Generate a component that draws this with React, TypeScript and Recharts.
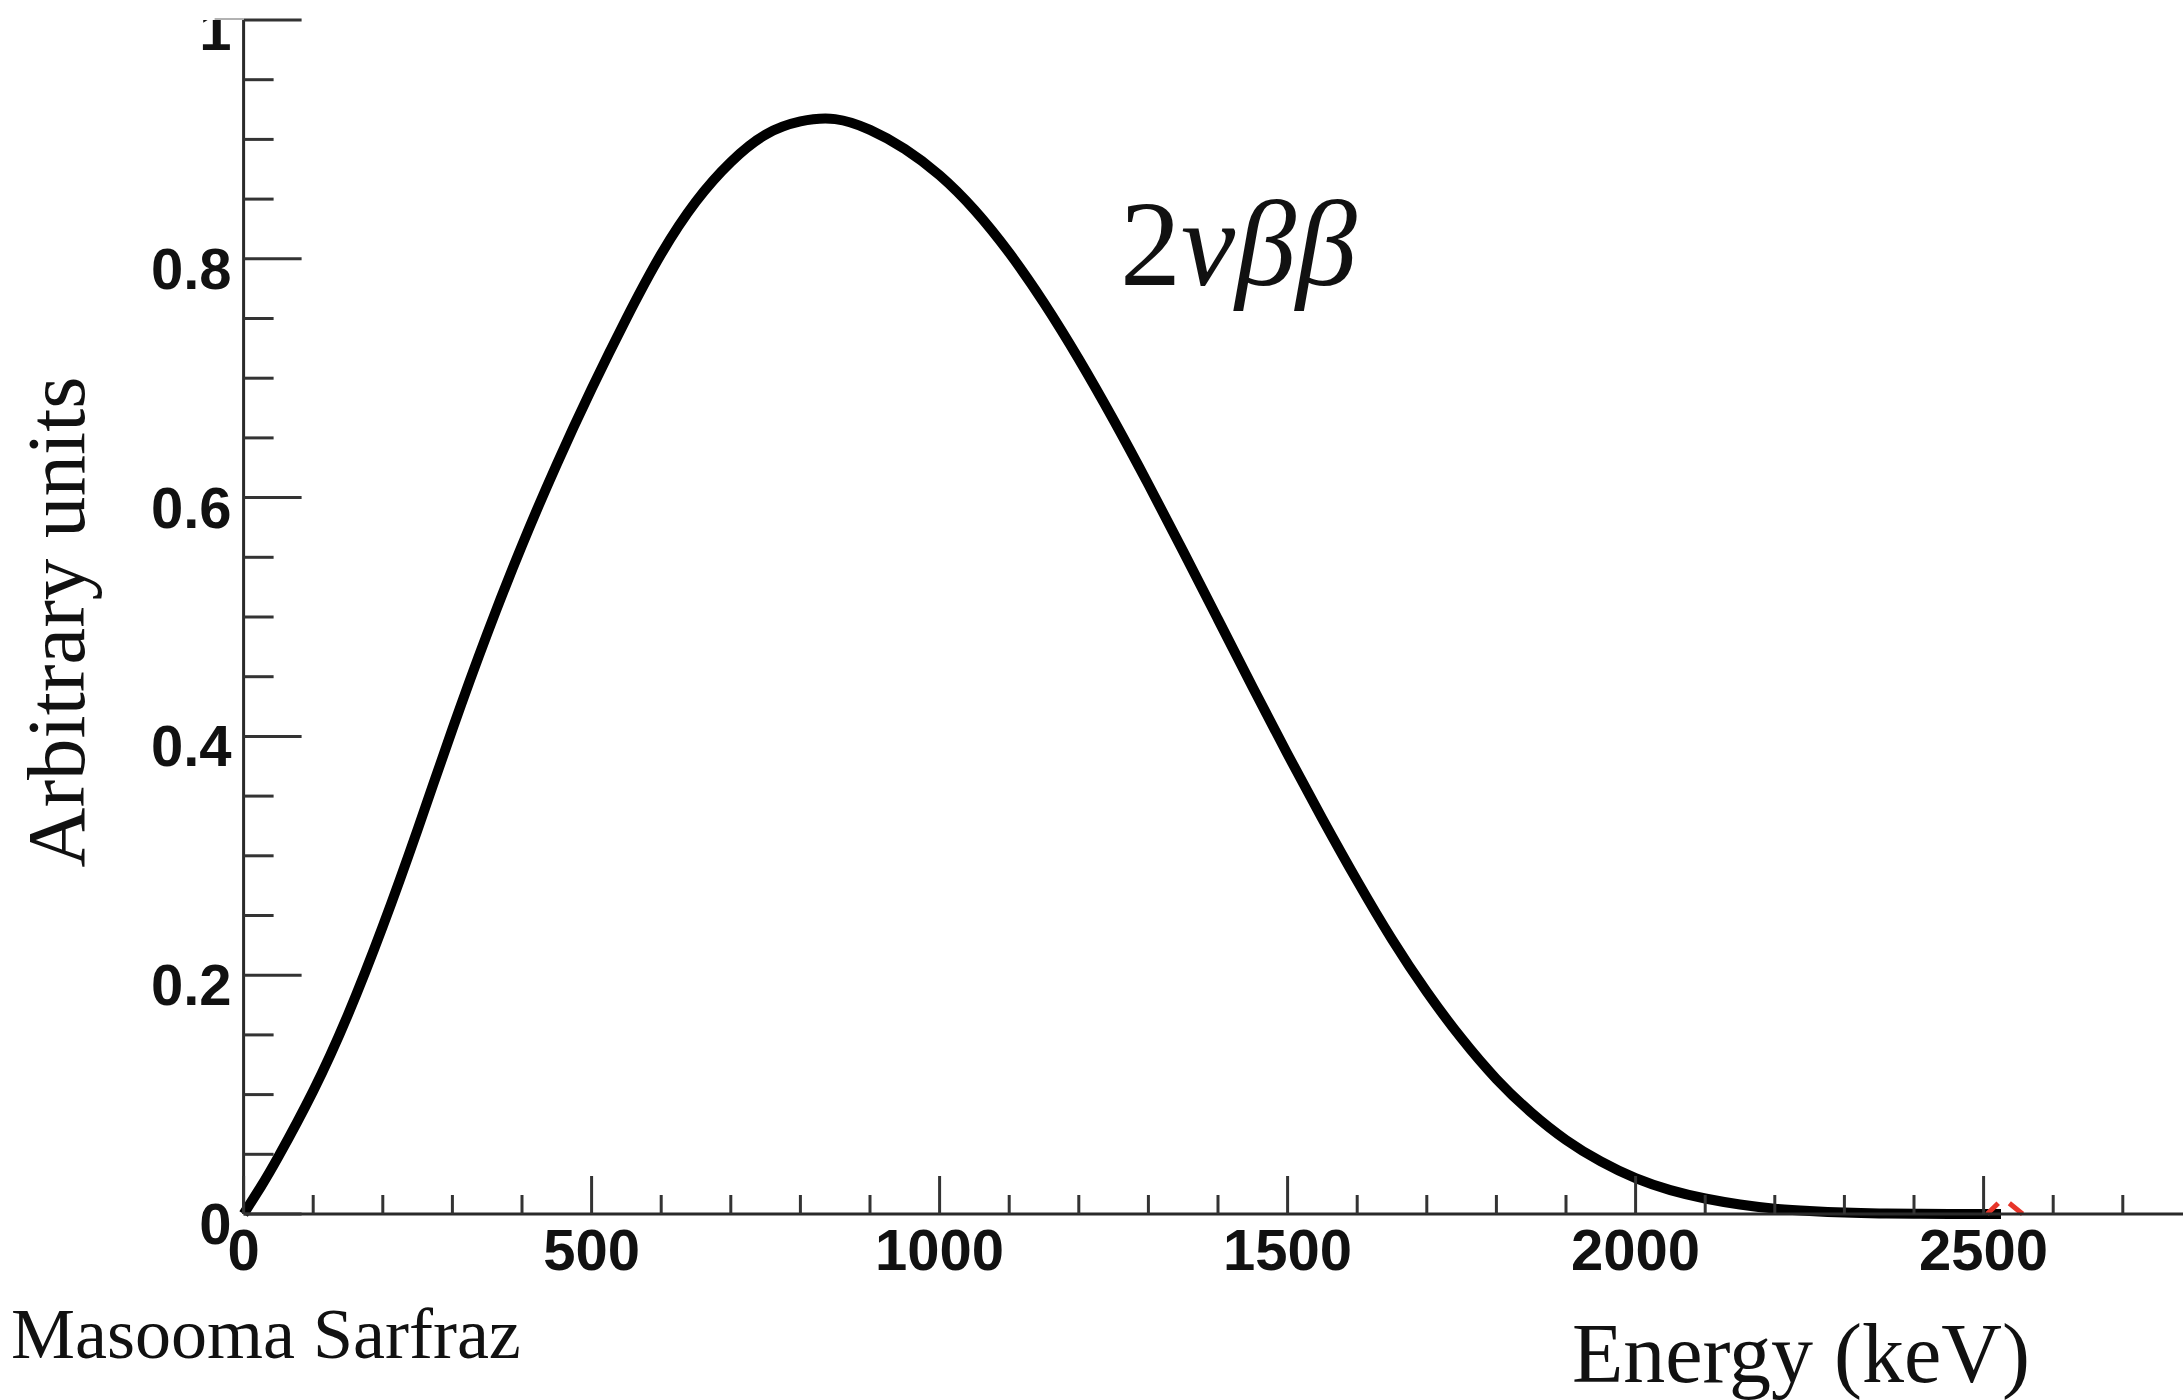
import { LineChart, Line, XAxis, YAxis } from 'recharts';

// values (every 50 keV)
const energy = [
  0, 25, 50, 100, 150, 200, 250, 300, 350, 400, 450, 500, 550, 600, 650, 700, 750, 800, 850,
  900, 950, 1000, 1050, 1100, 1150, 1200, 1250, 1300, 1350, 1400, 1450, 1500, 1550, 1600, 1650,
  1700, 1750, 1800, 1850, 1900, 1950, 2000, 2050, 2100, 2150, 2200, 2250, 2300, 2350, 2400,
  2450, 2525,
];
const units = [
  0, 0.023, 0.048, 0.103, 0.167, 0.241, 0.322, 0.406, 0.486, 0.56, 0.628, 0.691, 0.75,
  0.804, 0.848, 0.881, 0.904, 0.915, 0.917, 0.908, 0.892, 0.87, 0.841, 0.805, 0.763, 0.716,
  0.665, 0.611, 0.555, 0.498, 0.441, 0.385, 0.331, 0.279, 0.23, 0.186, 0.147, 0.113, 0.085,
  0.062, 0.044, 0.03, 0.02, 0.013, 0.008, 0.0045, 0.0025, 0.0012, 0.0005, 0.0002, 0.0001, 0,
];

// small red marks near the endpoint
const markEnergy = [2505, 2521, 2529, 2537, 2556];
const markUnits = [0, 0.009, null, 0.009, 0];

const xTicks = [
  0, 100, 200, 300, 400, 500, 600, 700, 800, 900, 1000, 1100, 1200, 1300, 1400, 1500, 1600,
  1700, 1800, 1900, 2000, 2100, 2200, 2300, 2400, 2500, 2600, 2700, 2800,
];
const xMajor = [0, 500, 1000, 1500, 2000, 2500];
const yTicks = [
  0, 0.05, 0.1, 0.15, 0.2, 0.25, 0.3, 0.35, 0.4, 0.45, 0.5, 0.55, 0.6, 0.65, 0.7, 0.75, 0.8,
  0.85, 0.9, 0.95, 1,
];
const yMajor = [0, 0.2, 0.4, 0.6, 0.8, 1];
const yLabels = ['0', '0.2', '0.4', '0.6', '0.8', '1'];

const spectrum = energy.map((e, i) => ({ energy: e, units: units[i] }));
const marks = markEnergy.map((e, i) => ({ energy: e, mark: markUnits[i] }));

const tickFont = { fontFamily: '"Liberation Sans", Arial, Helvetica, sans-serif', fontWeight: 700, fontSize: 58, fill: '#111' };
const serif = '"Liberation Serif", "Times New Roman", Times, serif';

const XTick = (props: any) => {
  const { x, y, payload } = props;
  const v = payload.value;
  const major = xMajor.includes(v);
  return (
    <g>
      <line x1={x} x2={x} y1={y} y2={y - (major ? 38 : 19)} stroke="#333" strokeWidth={3} />
      {major && (
        <text x={x} y={y + 56} textAnchor="middle" {...tickFont}>
          {v}
        </text>
      )}
    </g>
  );
};

const YTick = (props: any) => {
  const { x, y, payload } = props;
  const v = payload.value;
  const idx = yMajor.findIndex((m) => Math.abs(m - v) < 1e-6);
  const major = idx >= 0;
  const top = idx === yMajor.length - 1;
  return (
    <g>
      <line x1={x} x2={x + (major ? 58 : 30)} y1={y} y2={y} stroke="#333" strokeWidth={3} />
      {top && <line x1={x - 29} x2={x} y1={y - 1} y2={y - 1} stroke="#999" strokeWidth={1.5} />}
      {top && (
        <defs>
          <clipPath id="topcut">
            <rect x={x - 100} y={y} width={100} height={80} />
          </clipPath>
        </defs>
      )}
      {major && (
        <text x={x - 12} y={y + 30} textAnchor="end" clipPath={top ? 'url(#topcut)' : undefined} {...tickFont}>
          {yLabels[idx]}
        </text>
      )}
    </g>
  );
};

export default function App() {
  return (
    <div style={{ position: 'fixed', left: 0, top: 0, width: 2183, height: 1400, overflow: 'hidden', background: '#fff' }}>
      <div style={{ position: 'absolute', left: 0, top: 0 }}>
        <LineChart width={2200} height={1400} margin={{ top: 20, right: 7.6, bottom: 156, left: 183.6 }}>
          <XAxis
            dataKey="energy"
            type="number"
            domain={[0, 2800]}
            ticks={xTicks}
            interval={0}
            tickSize={0}
            tickMargin={0}
            tickLine={false}
            tick={<XTick />}
            axisLine={{ stroke: '#2a2a2a', strokeWidth: 3 }}
            height={30}
          />
          <YAxis
            type="number"
            domain={[0, 1]}
            ticks={yTicks}
            interval={0}
            tickSize={0}
            tickMargin={0}
            tickLine={false}
            tick={<YTick />}
            axisLine={{ stroke: '#2a2a2a', strokeWidth: 3 }}
            width={60}
          />
          <Line
            data={spectrum}
            dataKey="units"
            type="natural"
            stroke="#000"
            strokeWidth={10}
            strokeLinejoin="round"
            dot={false}
            activeDot={false}
            isAnimationActive={false}
          />
          <Line
            data={marks}
            dataKey="mark"
            type="linear"
            stroke="#e8352a"
            strokeWidth={5}
            dot={false}
            activeDot={false}
            connectNulls={false}
            isAnimationActive={false}
          />
        </LineChart>
      </div>
      <svg width={2183} height={1400} style={{ position: 'absolute', left: 0, top: 0, pointerEvents: 'none' }}>
        <text x={84} y={622} transform="rotate(-90 84 622)" textAnchor="middle" fontFamily={serif} fontSize={83} fill="#111">
          Arbitrary units
        </text>
        <text x={1120} y={285} fontFamily={serif} fontSize={122} fill="#111">
          2<tspan fontStyle="italic">νββ</tspan>
        </text>
        <text x={11} y={1358} fontFamily={serif} fontSize={72} fill="#111">
          Masooma Sarfraz
        </text>
        <text x={1572} y={1382} fontFamily={serif} fontSize={84} fill="#111">
          Energy (keV)
        </text>
      </svg>
    </div>
  );
}
